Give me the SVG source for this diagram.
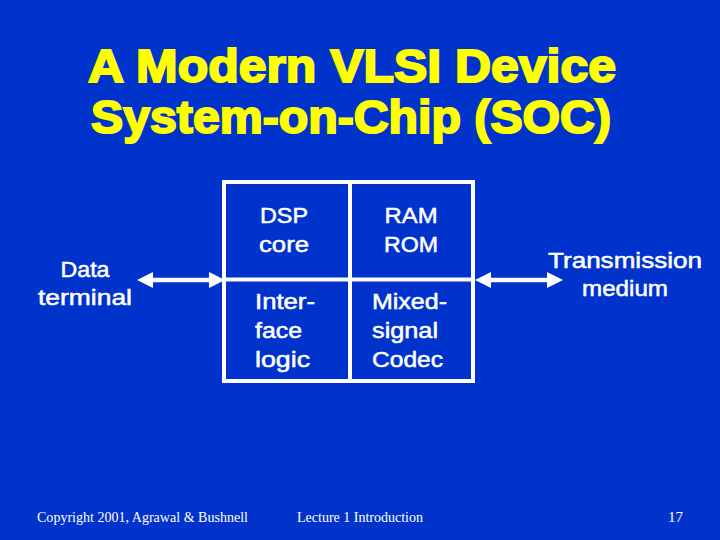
<svg xmlns="http://www.w3.org/2000/svg" width="720" height="540" viewBox="0 0 720 540">
<style>
.title{font-family:"Liberation Sans",Arial,sans-serif;font-weight:bold;font-size:46px;fill:#FFFF00;stroke:#FFFF00;stroke-width:2px;text-anchor:middle}
.lbl{font-family:"Liberation Sans",Arial,sans-serif;font-weight:normal;font-size:22px;fill:#FFFFFF;stroke:#FFFFFF;stroke-width:0.5px}
.mid{text-anchor:middle}
.foot{font-family:"Liberation Serif","Times New Roman",serif;font-size:14px;fill:#FFFFFF}
.box{fill:none;stroke:#FFFFFF;stroke-width:4}
.shaft{stroke:#FFFFFF;stroke-width:4.5;fill:none}
.head{fill:#FFFFFF}
</style>
<rect x="0" y="0" width="720" height="540" fill="#0033CC"/>
<g id="title">
<text class="title" x="352" y="82" textLength="528" lengthAdjust="spacingAndGlyphs">A Modern VLSI Device</text>
<text class="title" x="351" y="133" textLength="520" lengthAdjust="spacingAndGlyphs">System-on-Chip (SOC)</text>
</g>
<g id="soc">
<rect class="box" x="224" y="182" width="249" height="199"/>
<line class="box" x1="350" y1="182" x2="350" y2="381"/>
<line class="box" x1="224" y1="279.5" x2="473" y2="279.5"/>
</g>
<g id="dsp">
<text class="lbl mid" x="284" y="223" textLength="48" lengthAdjust="spacingAndGlyphs">DSP</text>
<text class="lbl mid" x="284" y="252" textLength="50" lengthAdjust="spacingAndGlyphs">core</text>
</g>
<g id="ram">
<text class="lbl mid" x="411" y="223" textLength="53" lengthAdjust="spacingAndGlyphs">RAM</text>
<text class="lbl mid" x="411" y="252" textLength="54" lengthAdjust="spacingAndGlyphs">ROM</text>
</g>
<g id="interface">
<text class="lbl" x="255" y="309" textLength="60" lengthAdjust="spacingAndGlyphs">Inter-</text>
<text class="lbl" x="255" y="338" textLength="47" lengthAdjust="spacingAndGlyphs">face</text>
<text class="lbl" x="255" y="367" textLength="55" lengthAdjust="spacingAndGlyphs">logic</text>
</g>
<g id="mixed">
<text class="lbl" x="372" y="309" textLength="75" lengthAdjust="spacingAndGlyphs">Mixed-</text>
<text class="lbl" x="372" y="338" textLength="66" lengthAdjust="spacingAndGlyphs">signal</text>
<text class="lbl" x="372" y="367" textLength="71" lengthAdjust="spacingAndGlyphs">Codec</text>
</g>
<g id="data-terminal">
<text class="lbl mid" x="85" y="277" textLength="49" lengthAdjust="spacingAndGlyphs">Data</text>
<text class="lbl mid" x="85" y="305" textLength="94" lengthAdjust="spacingAndGlyphs">terminal</text>
</g>
<g id="transmission-medium">
<text class="lbl mid" x="625" y="268" textLength="154" lengthAdjust="spacingAndGlyphs">Transmission</text>
<text class="lbl mid" x="625" y="296" textLength="86" lengthAdjust="spacingAndGlyphs">medium</text>
</g>
<g id="connectors">
<line class="shaft" x1="150" y1="280" x2="211" y2="280"/>
<polygon class="head" points="137,280 153,272 153,288"/>
<polygon class="head" points="225,280 209,272 209,288"/>
<line class="shaft" x1="488" y1="280" x2="550" y2="280"/>
<polygon class="head" points="475,280 491,272 491,288"/>
<polygon class="head" points="563,280 547,272 547,288"/>
</g>
<g id="footer">
<text class="foot" x="37" y="522" textLength="211" lengthAdjust="spacingAndGlyphs">Copyright 2001, Agrawal &amp; Bushnell</text>
<text class="foot" x="297" y="522" textLength="126" lengthAdjust="spacingAndGlyphs">Lecture 1 Introduction</text>
<text class="foot" x="668" y="522" textLength="15" lengthAdjust="spacingAndGlyphs">17</text>
</g>
</svg>
